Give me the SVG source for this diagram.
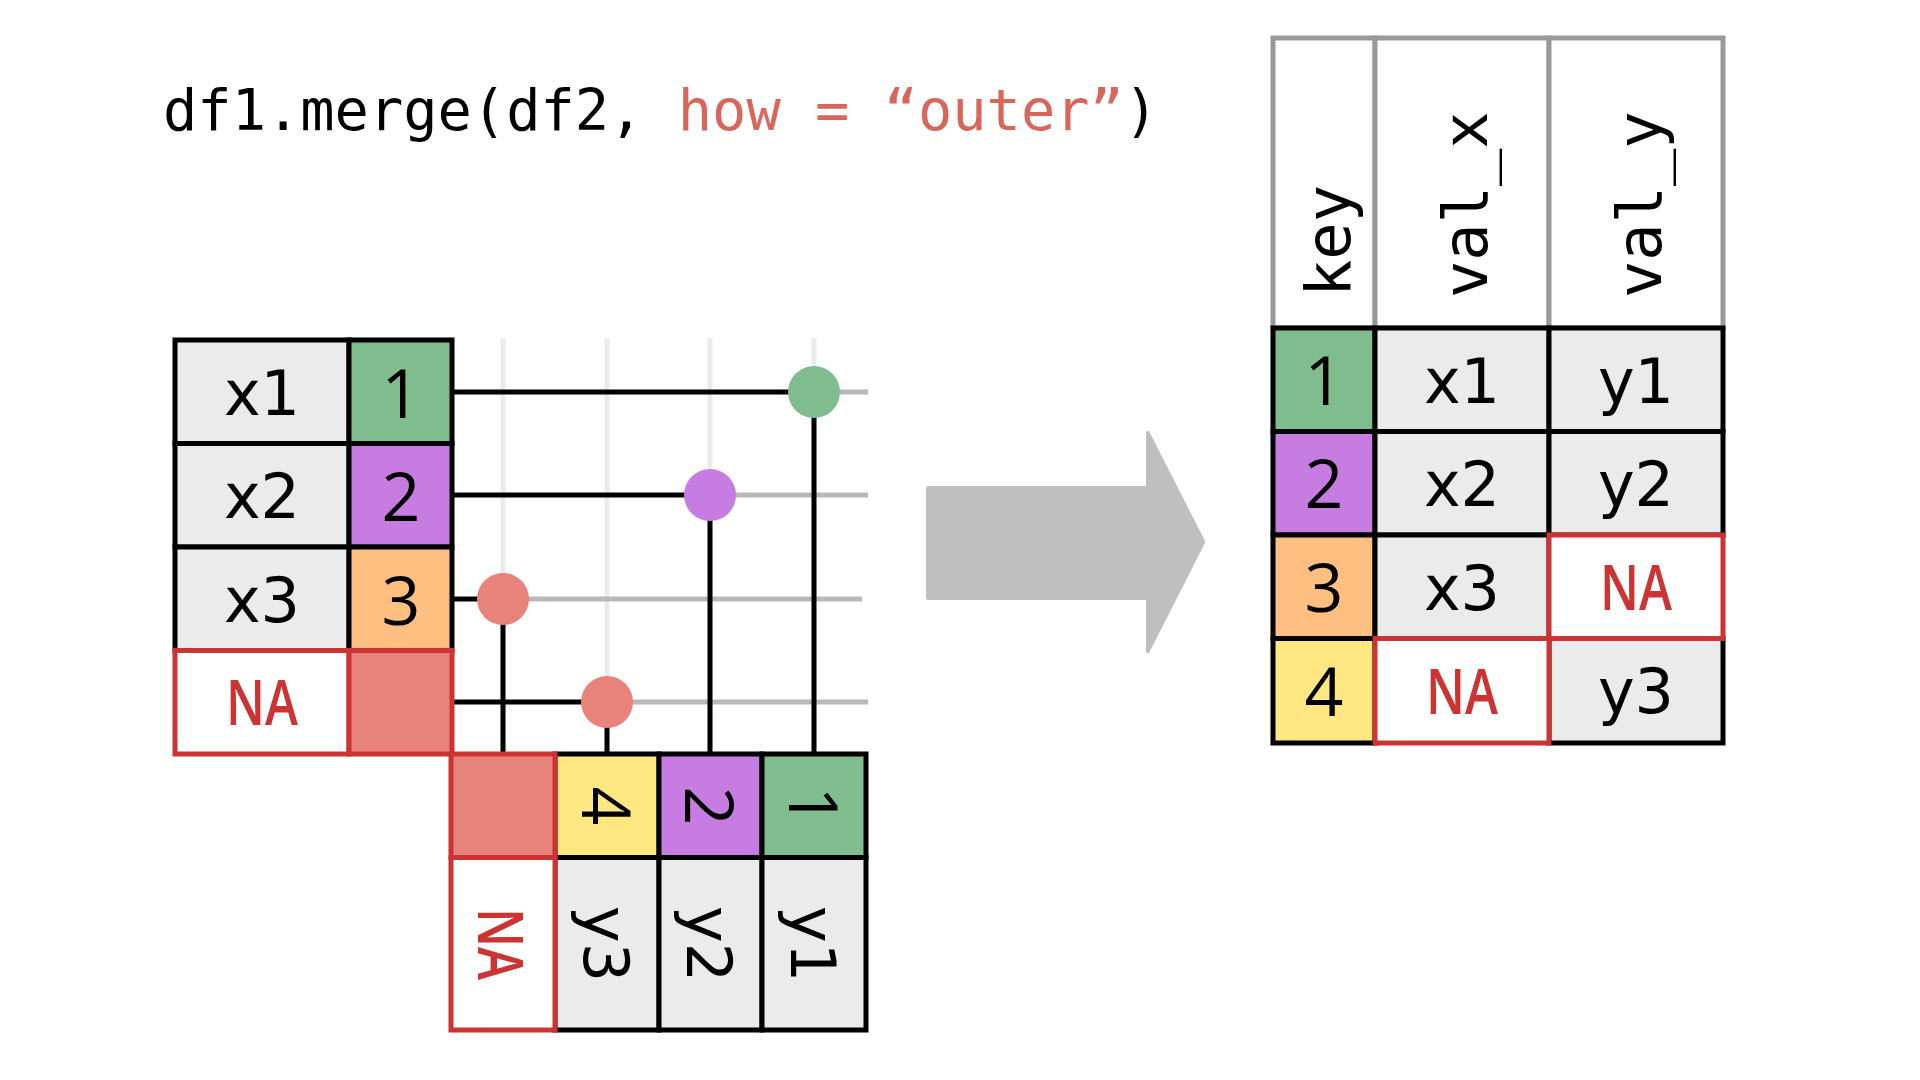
<svg xmlns="http://www.w3.org/2000/svg" width="1920" height="1080" viewBox="0 0 1920 1080">
<style>
.cell{stroke:#000;stroke-width:5}
.gray{fill:#EBEBEB}
.green{fill:#80BD8E}
.purple{fill:#C77CE2}
.orange{fill:#FFBF80}
.yellow{fill:#FFE882}
.salmon{fill:#E8837B}
.na{fill:#fff;stroke:#CC3333;stroke-width:5}
.nasal{fill:#E8837B;stroke:#CC3333;stroke-width:5}
.hdr{fill:#fff;stroke:#999;stroke-width:5}
.val{font-family:"DejaVu Sans",sans-serif;font-size:62px;fill:#000;text-anchor:middle}
.key{font-family:"Open Sans","Noto Sans",sans-serif;font-size:68px;font-weight:500;fill:#000;text-anchor:middle}
.natxt{font-family:"Open Sans","Noto Sans",sans-serif;font-size:64px;font-weight:600;fill:#CC3333;text-anchor:middle}
.htxt{font-family:"DejaVu Sans Mono",monospace;font-size:62px;fill:#000}
.blk{stroke:#000;stroke-width:5;fill:none}
.gln{stroke:#B8B8B8;stroke-width:5;fill:none}
.vln{stroke:#EBEBEB;stroke-width:5;fill:none}
</style>

<g id="title">
<text x="163" y="130" font-family="DejaVu Sans Mono, monospace" font-size="57" fill="#000">df1.merge(df2, <tspan fill="#D9665B">how = “outer”</tspan>)</text>
</g>

<g id="guides">
<line class="vln" x1="503" y1="338" x2="503" y2="754"/>
<line class="vln" x1="607" y1="338" x2="607" y2="754"/>
<line class="vln" x1="710" y1="338" x2="710" y2="754"/>
<line class="vln" x1="814" y1="338" x2="814" y2="754"/>
<line class="gln" x1="814" y1="392" x2="868" y2="392"/>
<line class="gln" x1="710" y1="495" x2="868" y2="495"/>
<line class="gln" x1="503" y1="599" x2="862" y2="599"/>
<line class="gln" x1="607" y1="702" x2="868" y2="702"/>
</g>

<g id="connectors">
<line class="blk" x1="452" y1="392" x2="814" y2="392"/>
<line class="blk" x1="814" y1="392" x2="814" y2="754"/>
<line class="blk" x1="452" y1="495" x2="710" y2="495"/>
<line class="blk" x1="710" y1="495" x2="710" y2="754"/>
<line class="blk" x1="452" y1="599" x2="503" y2="599"/>
<line class="blk" x1="503" y1="599" x2="503" y2="754"/>
<line class="blk" x1="452" y1="702" x2="607" y2="702"/>
<line class="blk" x1="607" y1="702" x2="607" y2="754"/>
<circle cx="814" cy="392" r="26" fill="#80BD8E"/>
<circle cx="710" cy="495" r="26" fill="#C77CE2"/>
<circle cx="503" cy="599" r="26" fill="#E8837B"/>
<circle cx="607" cy="702" r="26" fill="#E8837B"/>
</g>

<g id="df1">
<rect class="cell gray" x="175" y="340" width="174" height="103.5"/>
<rect class="cell green" x="349" y="340" width="103" height="103.5"/>
<rect class="cell gray" x="175" y="443.5" width="174" height="103.5"/>
<rect class="cell purple" x="349" y="443.5" width="103" height="103.5"/>
<rect class="cell gray" x="175" y="547" width="174" height="103.5"/>
<rect class="cell orange" x="349" y="547" width="103" height="103.5"/>
<rect class="na" x="175" y="650.5" width="174" height="103.5"/>
<rect class="nasal" x="349" y="650.5" width="103" height="103.5"/>
<text class="val" x="262" y="415">x1</text>
<text class="val" x="262" y="518">x2</text>
<text class="val" x="262" y="622">x3</text>
<text class="natxt" x="262" y="725" textLength="72" lengthAdjust="spacingAndGlyphs">NA</text>
<text class="key" x="401" y="418">1</text>
<text class="key" x="401" y="521">2</text>
<text class="key" x="401" y="625">3</text>
</g>

<g id="df2">
<rect class="cell yellow" x="555" y="754" width="104" height="103.5"/>
<rect class="cell purple" x="659" y="754" width="103" height="103.5"/>
<rect class="cell green" x="762" y="754" width="104" height="103.5"/>
<rect class="cell gray" x="555" y="857.5" width="104" height="172.5"/>
<rect class="cell gray" x="659" y="857.5" width="103" height="172.5"/>
<rect class="cell gray" x="762" y="857.5" width="104" height="172.5"/>
<rect class="nasal" x="451" y="754" width="104" height="103.5"/>
<rect class="na" x="451" y="857.5" width="104" height="172.5"/>
<text class="key" transform="translate(607,806) rotate(90)" x="0" y="25">4</text>
<text class="key" transform="translate(710,806) rotate(90)" x="0" y="25">2</text>
<text class="key" transform="translate(814,806) rotate(90)" x="0" y="25">1</text>
<text class="natxt" transform="translate(501,944) rotate(90)" x="0" y="23" textLength="72" lengthAdjust="spacingAndGlyphs">NA</text>
<text class="val" transform="translate(607,944) rotate(90)" x="0" y="23">y3</text>
<text class="val" transform="translate(710,944) rotate(90)" x="0" y="23">y2</text>
<text class="val" transform="translate(814,944) rotate(90)" x="0" y="23">y1</text>
</g>

<g id="arrow">
<path d="M928 486 L1146 486 L1146 433 Q1147 428 1150 433 L1204 539 Q1206 542 1204 545 L1150 651 Q1147 656 1146 651 L1146 600 L928 600 Q926 600 926 598 L926 488 Q926 486 928 486 Z" fill="#BFBFBF"/>
</g>

<g id="result">
<rect class="hdr" x="1273" y="38" width="102" height="290"/>
<rect class="hdr" x="1375" y="38" width="174" height="290"/>
<rect class="hdr" x="1549" y="38" width="174" height="290"/>
<text class="htxt" transform="translate(1350,297) rotate(-90)">key</text>
<text class="htxt" transform="translate(1487,298) rotate(-90)">val_x</text>
<text class="htxt" transform="translate(1661,298) rotate(-90)">val_y</text>

<rect class="cell green" x="1273" y="328" width="102" height="103.5"/>
<rect class="cell gray" x="1375" y="328" width="174" height="103.5"/>
<rect class="cell gray" x="1549" y="328" width="174" height="103.5"/>
<rect class="cell purple" x="1273" y="431.5" width="102" height="103.5"/>
<rect class="cell gray" x="1375" y="431.5" width="174" height="103.5"/>
<rect class="cell gray" x="1549" y="431.5" width="174" height="103.5"/>
<rect class="cell orange" x="1273" y="535" width="102" height="103.5"/>
<rect class="cell gray" x="1375" y="535" width="174" height="103.5"/>
<rect class="cell yellow" x="1273" y="638.5" width="102" height="104.5"/>
<rect class="cell gray" x="1549" y="638.5" width="174" height="104.5"/>
<rect class="na" x="1549" y="535" width="174" height="103.5"/>
<rect class="na" x="1375" y="638.5" width="174" height="104.5"/>

<text class="key" x="1324" y="405">1</text>
<text class="key" x="1324" y="508">2</text>
<text class="key" x="1324" y="612">3</text>
<text class="key" x="1324" y="716">4</text>
<text class="val" x="1462" y="403">x1</text>
<text class="val" x="1462" y="506">x2</text>
<text class="val" x="1462" y="610">x3</text>
<text class="natxt" x="1462" y="714" textLength="72" lengthAdjust="spacingAndGlyphs">NA</text>
<text class="val" x="1636" y="403">y1</text>
<text class="val" x="1636" y="506">y2</text>
<text class="natxt" x="1636" y="610" textLength="72" lengthAdjust="spacingAndGlyphs">NA</text>
<text class="val" x="1636" y="713">y3</text>
</g>
</svg>
